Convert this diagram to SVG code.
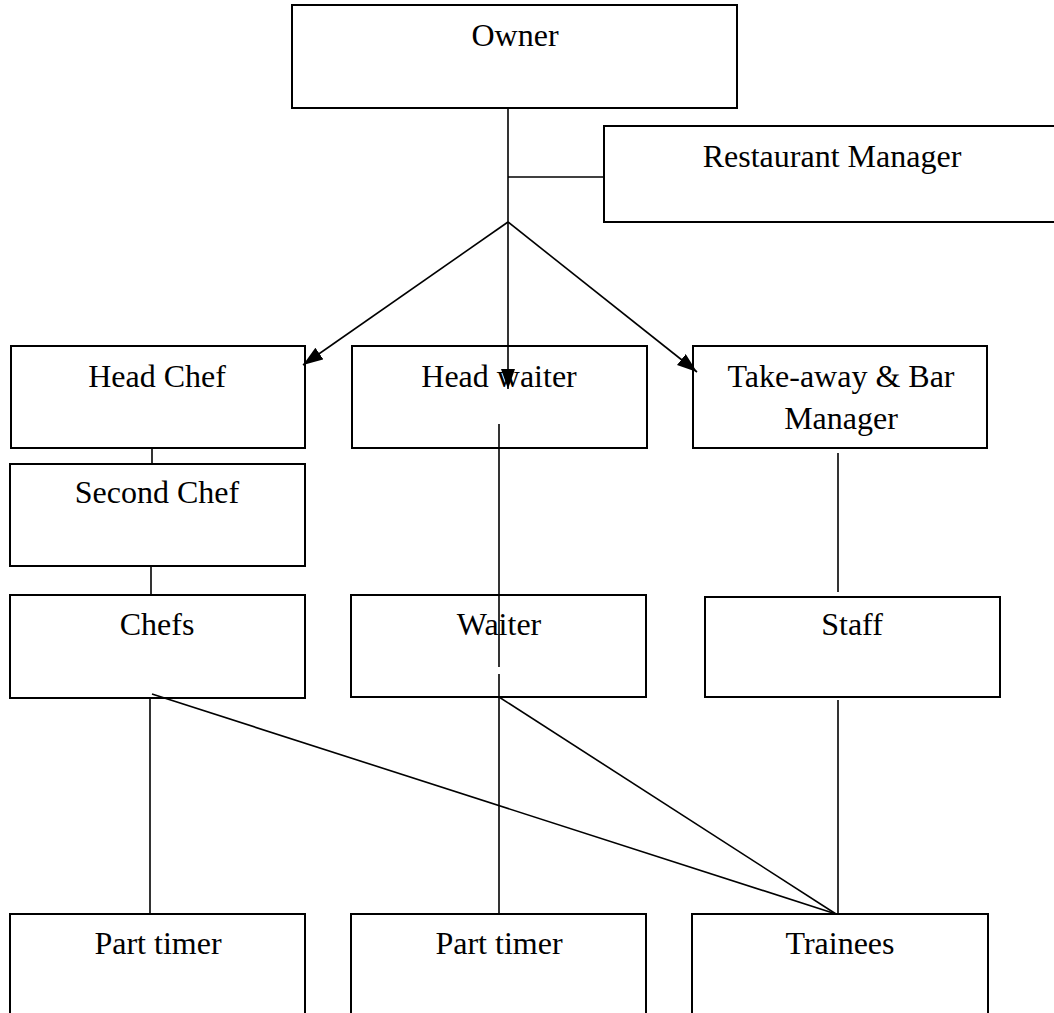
<svg xmlns="http://www.w3.org/2000/svg" width="1054" height="1013" viewBox="0 0 1054 1013">
<style>
.box{fill:#fff;stroke:#000;stroke-width:2}
.lbl{font-family:"Liberation Serif","Times New Roman",serif;font-size:32px;fill:#000;text-anchor:middle}
.ln{stroke:#000;stroke-width:1.6;fill:none}
</style>
<defs>
<marker id="arr" markerUnits="userSpaceOnUse" markerWidth="22" markerHeight="16" refX="20" refY="7" orient="auto">
<path d="M0,0 L20,7 L0,14 Z" fill="#000"/>
</marker>
</defs>
<rect width="1054" height="1013" fill="#fff"/>
<g id="owner"><rect class="box" x="292" y="5" width="445" height="103"/><text class="lbl" x="515" y="46">Owner</text></g>
<g id="restaurant-manager"><rect class="box" x="604" y="126" width="460" height="96"/><text class="lbl" x="832" y="167">Restaurant Manager</text></g>
<g id="head-chef"><rect class="box" x="11" y="346" width="294" height="102"/><text class="lbl" x="157" y="387">Head Chef</text></g>
<g id="head-waiter"><rect class="box" x="352" y="346" width="295" height="102"/><text class="lbl" x="499" y="387">Head waiter</text></g>
<g id="takeaway-bar-manager"><rect class="box" x="693" y="346" width="294" height="102"/><text class="lbl" x="841" y="387">Take-away &amp; Bar</text><text class="lbl" x="841" y="429">Manager</text></g>
<g id="second-chef"><rect class="box" x="10" y="464" width="295" height="102"/><text class="lbl" x="157" y="503">Second Chef</text></g>
<g id="chefs"><rect class="box" x="10" y="595" width="295" height="103"/><text class="lbl" x="157" y="635">Chefs</text></g>
<g id="waiter"><rect class="box" x="351" y="595" width="295" height="102"/><text class="lbl" x="499" y="635">Waiter</text></g>
<g id="staff"><rect class="box" x="705" y="597" width="295" height="100"/><text class="lbl" x="852" y="635">Staff</text></g>
<g id="part-timer-1"><rect class="box" x="10" y="914" width="295" height="120"/><text class="lbl" x="158" y="954">Part timer</text></g>
<g id="part-timer-2"><rect class="box" x="351" y="914" width="295" height="120"/><text class="lbl" x="499" y="954">Part timer</text></g>
<g id="trainees"><rect class="box" x="692" y="914" width="296" height="120"/><text class="lbl" x="840" y="954">Trainees</text></g>
<g id="connectors">
<line class="ln" x1="508" y1="108" x2="508" y2="389" marker-end="url(#arr)"/>
<line class="ln" x1="508" y1="177" x2="604" y2="177"/>
<line class="ln" x1="508" y1="222" x2="303" y2="365" marker-end="url(#arr)"/>
<line class="ln" x1="508" y1="222" x2="697" y2="372" marker-end="url(#arr)"/>
<line class="ln" x1="152" y1="448" x2="152" y2="464"/>
<line class="ln" x1="151" y1="566" x2="151" y2="595"/>
<line class="ln" x1="499" y1="424" x2="499" y2="667"/>
<line class="ln" x1="499" y1="674" x2="499" y2="914"/>
<line class="ln" x1="838" y1="453" x2="838" y2="592"/>
<line class="ln" x1="838" y1="700" x2="838" y2="914"/>
<line class="ln" x1="150" y1="698" x2="150" y2="914"/>
<line class="ln" x1="152" y1="694" x2="836" y2="914"/>
<line class="ln" x1="499" y1="697" x2="836" y2="914"/>
</g>
</svg>
